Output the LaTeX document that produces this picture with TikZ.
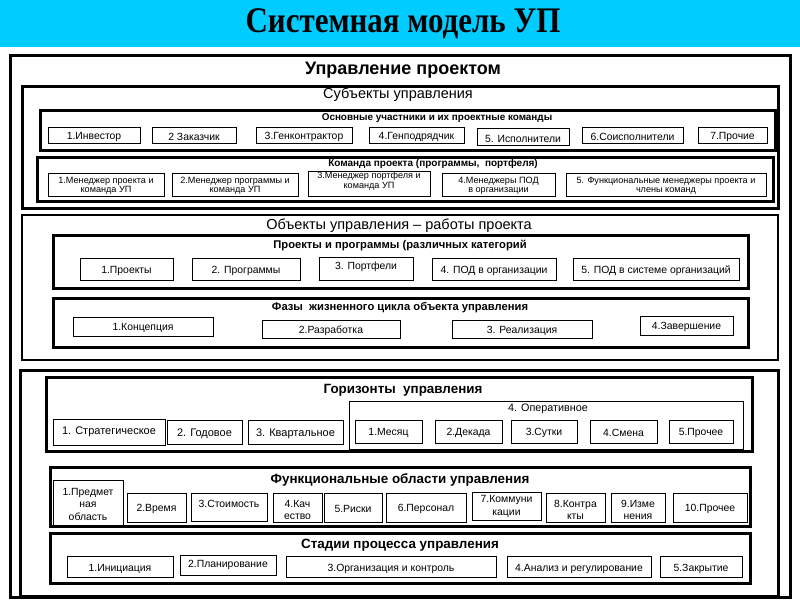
\documentclass[tikz,border=0pt]{standalone}
\usepackage{fontspec}
\setmainfont{Liberation Sans}
\newfontfamily\serifttl{Liberation Serif}
\definecolor{band}{RGB}{0,204,255}
% \bx[style]{name}{x1}{y1}{x2}{y2}{text shift up}{text}
\newcommand{\bx}[8][item]{%
  \node[#1, minimum width={(#5-#3)*1pt}, minimum height={(#6-#4)*1pt}] (#2) at (#3,#4) {};
  \node[#1, draw=none, anchor=center, minimum width=0pt, minimum height=0pt] (#2-t) at ([yshift=#7pt-1pt]#2.center) {#8};}
\newcommand{\fs}[1]{\fontsize{#1}{#1}\selectfont}
\begin{document}
\begin{tikzpicture}[x=1pt,y=-1pt,
  item/.style={draw, line width=0.8pt, anchor=north west, inner sep=0pt, outer sep=0pt, align=center, font=\fontsize{10.4}{11}\selectfont},
  team/.style={item, font=\fontsize{9.1}{9.3}\selectfont},
  hitem/.style={item, font=\fontsize{11}{12}\selectfont},
  fitem/.style={item, font=\fontsize{10.4}{12.5}\selectfont},
  frame/.style={draw, line width=3pt, anchor=north west, inner sep=0pt, outer sep=0pt},
  mframe/.style={draw, line width=2pt, anchor=north west, inner sep=0pt, outer sep=0pt},
  thin/.style={draw, line width=0.8pt, anchor=north west, inner sep=0pt, outer sep=0pt},
  ttl/.style={inner sep=0pt, font=\bfseries\fs{13.4}},
  sub/.style={inner sep=0pt, font=\bfseries\fs{11.2}},
]
\useasboundingbox (0,0) rectangle (800,600);
\fill[white] (0,0) rectangle (800,600);
\fill[band] (0,0) rectangle (800,47);
\node[inner sep=0pt] (title) at (403,24) {\serifttl\bfseries\fs{36}\scalebox{0.86}[1]{Системная модель УП}};

% outer frame
\node[frame, minimum width=780pt, minimum height=542pt] (outer) at (10,55) {};
\node[inner sep=0pt, font=\bfseries\fs{18}] (tmain) at (403,70) {Управление проектом};

% subjects
\node[frame, minimum width=756pt, minimum height=122pt] (subj) at (22,86) {};
\node[inner sep=0pt, font=\fs{14.5}] (tsubj) at (398,95) {Субъекты управления};

\node[frame, minimum width=735pt, minimum height=40pt] (part) at (40,110) {};
\node[inner sep=0pt, font=\bfseries\fs{9.9}] (tpart) at (437,118) {Основные участники и их проектные команды};
\bx{p1}{48}{127}{140}{143}{-1}{1.Инвестор}
\bx{p2}{152}{127}{236}{143}{-1}{2 Заказчик}
\bx{p3}{256}{127}{352}{143}{-1}{3.Генконтрактор}
\bx{p4}{369}{127}{464}{143}{-1}{4.Генподрядчик}
\bx{p5}{477}{128}{569}{145}{-1}{5. Исполнители}
\bx{p6}{582}{127}{683}{143}{-1}{6.Соисполнители}
\bx{p7}{698}{127}{767}{143}{-1}{7.Прочие}

\node[frame, minimum width=736pt, minimum height=44pt] (team) at (37,157) {};
\node[inner sep=0pt, font=\bfseries\fs{10}] (tteam) at (433,163.5) {Команда проекта (программы,\ \ портфеля)};
\bx[team]{t1}{48}{173}{164}{196}{-0.5}{1.Менеджер проекта и\\команда УП}
\bx[team]{t2}{172}{173}{298}{196}{-0.5}{2.Менеджер программы и\\команда УП}
\bx[team]{t3}{308}{171}{430}{196}{3.5}{3.Менеджер портфеля и\\команда УП}
\bx[team]{t4}{442}{173}{555}{196}{-0.5}{4.Менеджеры ПОД\\в организации}
\bx[team]{t5}{566}{173}{766}{196}{-0.5}{5. Функциональные менеджеры проекта и\\члены команд}

% objects
\node[mframe, minimum width=756pt, minimum height=145pt] (obj) at (22,215) {};
\node[inner sep=0pt, font=\fs{14.5}] (tobj) at (399,226) {Объекты управления – работы проекта};

\node[frame, minimum width=695pt, minimum height=53pt] (proj) at (53,235) {};
\node[sub] (tproj) at (400,245) {Проекты и программы (различных категорий};
\bx{o1}{80}{258}{173}{280}{-1}{1.Проекты}
\bx{o2}{192}{258}{300}{280}{-1}{2. Программы}
\bx{o3}{319}{257}{413}{280}{2.5}{3. Портфели}
\bx{o4}{432}{258}{556}{280}{-1}{4. ПОД в организации}
\bx{o5}{573}{258}{739}{280}{-1}{5. ПОД в системе организаций}

\node[frame, minimum width=695pt, minimum height=49pt] (phase) at (53,298) {};
\node[sub] (tphase) at (400,308) {Фазы\ \ жизненного цикла объекта управления};
\bx{f1}{73}{317}{213}{336}{-0.5}{1.Концепция}
\bx{f2}{262}{320}{400}{338}{-1}{2.Разработка}
\bx{f3}{452}{320}{592}{338}{-1}{3. Реализация}
\bx{f4}{640}{316}{733}{335}{0}{4.Завершение}

% management
\node[frame, minimum width=758pt, minimum height=226pt] (mgmt) at (20,370) {};

\node[frame, minimum width=706pt, minimum height=74pt] (hor) at (46,377) {};
\node[ttl] (thor) at (403,390) {Горизонты\ \ управления};
\bx[hitem]{h1}{53}{419}{165}{445}{1.5}{1. Стратегическое}
\bx[hitem]{h2}{167}{420}{242}{444}{-0.5}{2. Годовое}
\bx[hitem]{h3}{248}{420}{343}{444}{-0.5}{3. Квартальное}
\node[thin, minimum width=394pt, minimum height=48pt] (oper) at (349,401) {};
\node[inner sep=0pt, font=\fs{10.8}] (toper) at (548,409) {4. Оперативное};
\bx{m1}{355}{420}{422}{443}{0}{1.Месяц}
\bx{m2}{435}{420}{502}{443}{0}{2.Декада}
\bx{m3}{511}{420}{577}{443}{0}{3.Сутки}
\bx{m4}{590}{420}{657}{443}{0}{4.Смена}
\bx{m5}{669}{420}{733}{443}{0}{5.Прочее}

\node[frame, minimum width=700pt, minimum height=59pt] (func) at (50,467) {};
\node[ttl] (tfunc) at (400,480) {Функциональные области управления};
\bx[fitem]{a1}{53}{480}{123}{526}{0}{1.Предмет\\ная\\область}
\bx{a2}{127}{493}{186}{522}{0}{2.Время}
\bx{a3}{191}{493}{267}{521}{4}{3.Стоимость}
\bx[fitem]{a4}{273}{493}{322}{522}{-1.5}{4.Кач\\ество}
\bx{a5}{324}{493}{382}{522}{0}{5.Риски}
\bx{a6}{386}{493}{466}{522}{0}{6.Персонал}
\bx[fitem]{a7}{472}{492}{541}{520}{0.5}{7.Коммуни\\кации}
\bx[fitem]{a8}{546}{493}{605}{522}{-1.5}{8.Контра\\кты}
\bx[fitem]{a9}{611}{493}{665}{522}{-1.5}{9.Изме\\нения}
\bx{a10}{673}{493}{747}{522}{0}{10.Прочее}

\node[frame, minimum width=700pt, minimum height=50pt] (stage) at (50,533) {};
\node[ttl] (tstage) at (400,545) {Стадии процесса управления};
\bx{s1}{67}{556}{173}{577}{-1}{1.Инициация}
\bx{s2}{180}{555}{276}{575}{1.5}{2.Планирование}
\bx{s3}{286}{556}{496}{577}{-1}{3.Организация и контроль}
\bx{s4}{507}{556}{651}{577}{-1}{4.Анализ и регулирование}
\bx{s5}{660}{556}{742}{577}{-1}{5.Закрытие}
\end{tikzpicture}
\end{document}
